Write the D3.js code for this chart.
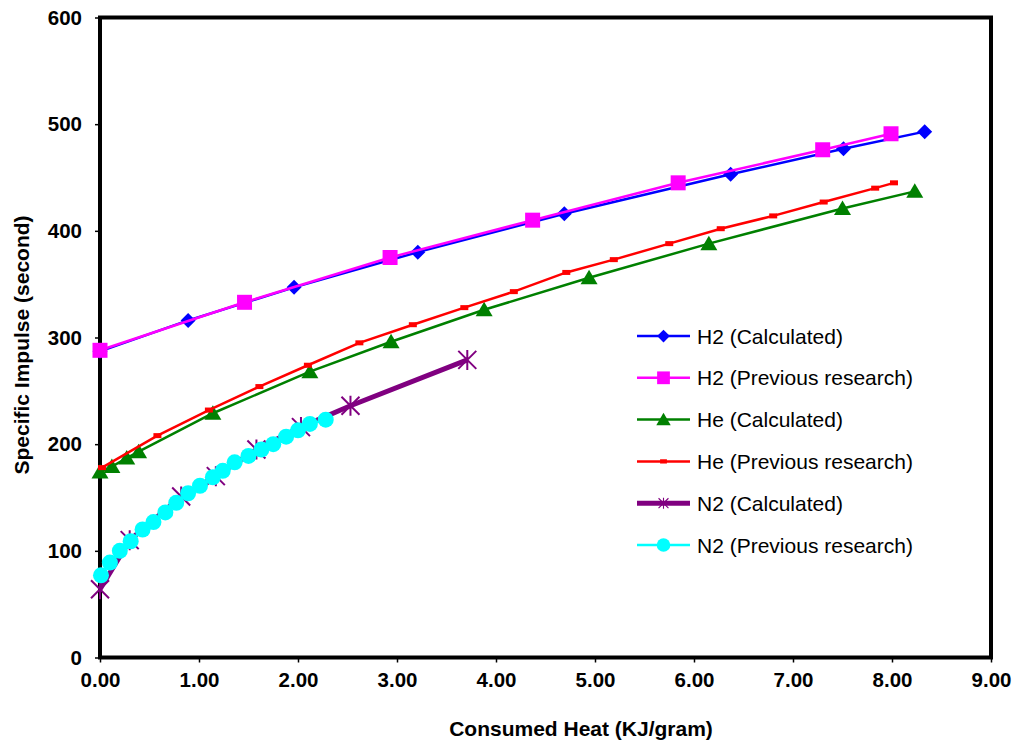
<!DOCTYPE html>
<html>
<head>
<meta charset="utf-8">
<script src="https://cdn.jsdelivr.net/npm/d3@7"></script>
<style>
  body { margin: 0; background: #fff; }
  text { font-family: "Liberation Sans", Arial, sans-serif; }
</style>
</head>
<body>
<div id="chart"></div>
<script>
const MARGIN = { LEFT: 100, RIGHT: 24, TOP: 17.5, BOTTOM: 85.5 };
const WIDTH = 1015 - MARGIN.LEFT - MARGIN.RIGHT;
const HEIGHT = 743 - MARGIN.TOP - MARGIN.BOTTOM;

// x ticks / y ticks
const xTicks = [0, 1, 2, 3, 4, 5, 6, 7, 8, 9];
const yTicks = [0, 100, 200, 300, 400, 500, 600];

// series data: [consumed heat, specific impulse]
const h2Calc = [[0, 287], [0.89, 316], [1.96, 347], [3.21, 380], [4.69, 416], [6.37, 453], [7.51, 477], [8.33, 493]];
const h2Prev = [[0, 288], [1.46, 333], [2.93, 375], [4.37, 410], [5.84, 445], [7.30, 476], [7.99, 491]];
const heCalc = [[0, 174], [0.12, 179], [0.27, 187], [0.39, 193], [1.14, 229], [2.12, 268], [2.94, 296], [3.88, 326], [4.94, 356], [6.15, 388], [7.50, 421], [8.23, 437]];
const hePrev = [[0.02, 178], [0.58, 208], [1.10, 232], [1.61, 254], [2.10, 274], [2.62, 295], [3.16, 312], [3.68, 328], [4.18, 343], [4.71, 361], [5.19, 373], [5.75, 388], [6.27, 402], [6.80, 414], [7.31, 427], [7.83, 440], [8.02, 445]];
const n2Calc = [[0, 64], [0.30, 110], [0.82, 151], [1.17, 170], [1.58, 195], [2.03, 216], [2.53, 236], [3.71, 279]];
const n2Prev = [[0.01, 77], [0.10, 89], [0.20, 100], [0.31, 109], [0.43, 120], [0.54, 127], [0.66, 136], [0.77, 145], [0.89, 154], [1.01, 161], [1.14, 169], [1.24, 175], [1.36, 183], [1.50, 189], [1.63, 195], [1.75, 200], [1.88, 207], [2.00, 213], [2.12, 219], [2.28, 223]];

const seriesNames = ["H2 (Calculated)", "H2 (Previous research)", "He (Calculated)", "He (Previous research)", "N2 (Calculated)", "N2 (Previous research)"];
const seriesData = [h2Calc, h2Prev, heCalc, hePrev, n2Calc, n2Prev];
const seriesColors = ["#0000ff", "#ff00ff", "#008000", "#ff0000", "#800080", "#00ffff"];
const seriesWidths = [2.5, 2.5, 2.5, 2.5, 5, 2.5];
const seriesMarkers = ["diamond", "square", "triangle", "dash", "star", "circle"];

const svg = d3.select("#chart").append("svg")
  .attr("width", 1015)
  .attr("height", 743);

const g = svg.append("g")
  .attr("transform", `translate(${MARGIN.LEFT}, ${MARGIN.TOP})`);

const x = d3.scaleLinear().domain([0, 9]).range([0, WIDTH]);
const y = d3.scaleLinear().domain([0, 600]).range([HEIGHT, 0]);

// axes
const xAxis = g.append("g")
  .attr("transform", `translate(0, ${HEIGHT})`)
  .call(d3.axisBottom(x).tickValues(xTicks).tickSize(5).tickPadding(10).tickFormat(d3.format(".2f")));
const yAxis = g.append("g")
  .call(d3.axisLeft(y).tickValues(yTicks).tickSize(5).tickPadding(13));

[xAxis, yAxis].forEach((a) => {
  a.select(".domain").remove();
  a.selectAll("line").attr("stroke", "#000").attr("stroke-width", 1.5);
  a.selectAll("text")
    .attr("font-size", "20.5px")
    .attr("font-weight", "bold")
    .attr("fill", "#000");
});

// axis titles
svg.append("text")
  .attr("x", 581)
  .attr("y", 736)
  .attr("text-anchor", "middle")
  .attr("font-size", "21px")
  .attr("font-weight", "bold")
  .text("Consumed Heat (KJ/gram)");

svg.append("text")
  .attr("transform", "rotate(-90)")
  .attr("x", -345)
  .attr("y", 29)
  .attr("text-anchor", "middle")
  .attr("font-size", "21px")
  .attr("font-weight", "bold")
  .text("Specific Impulse (second)");

// frame
g.append("rect")
  .attr("width", WIDTH)
  .attr("height", HEIGHT)
  .attr("fill", "none")
  .attr("stroke", "#000")
  .attr("stroke-width", 4);

const line = d3.line()
  .x((d) => x(d[0]))
  .y((d) => y(d[1]));

function drawMarker(sel, type, color) {
  if (type === "diamond") {
    sel.append("path").attr("d", "M0,-7.5L7.5,0L0,7.5L-7.5,0Z").attr("fill", color);
  } else if (type === "square") {
    sel.append("rect").attr("x", -7.5).attr("y", -7.5).attr("width", 15).attr("height", 15).attr("fill", color);
  } else if (type === "triangle") {
    sel.append("path").attr("d", "M0,-8L8.5,6.5L-8.5,6.5Z").attr("fill", color);
  } else if (type === "dash") {
    sel.append("rect").attr("x", -4).attr("y", -2.5).attr("width", 8).attr("height", 5).attr("fill", color);
  } else if (type === "star") {
    sel.append("path")
      .attr("d", "M-9,-9L9,9M-9,9L9,-9M0,-10L0,10")
      .attr("stroke", color)
      .attr("stroke-width", 2)
      .attr("fill", "none");
  } else if (type === "circle") {
    sel.append("circle").attr("r", 8).attr("fill", color);
  }
}

seriesData.forEach((data, i) => {
  const sg = g.append("g").attr("class", "series");
  sg.append("path")
    .attr("fill", "none")
    .attr("stroke", seriesColors[i])
    .attr("stroke-width", seriesWidths[i])
    .attr("d", line(data));
  sg.selectAll(".marker")
    .data(data)
    .enter()
    .append("g")
    .attr("class", "marker")
    .attr("transform", (d) => `translate(${x(d[0])}, ${y(d[1])})`)
    .each(function () {
      drawMarker(d3.select(this), seriesMarkers[i], seriesColors[i]);
    });
});

// legend
const legend = svg.append("g").attr("transform", "translate(637, 336)");
seriesNames.forEach((name, i) => {
  const row = legend.append("g").attr("transform", `translate(0, ${i * 41.8})`);
  row.append("line")
    .attr("x1", 0).attr("x2", 53)
    .attr("stroke", seriesColors[i])
    .attr("stroke-width", seriesWidths[i]);
  const m = row.append("g").attr("transform", "translate(26.5, 0) scale(0.85)");
  drawMarker(m, seriesMarkers[i], seriesColors[i]);
  if (seriesMarkers[i] === "star") m.attr("transform", "translate(26.5, 0) scale(0.55)");
  row.append("text")
    .attr("x", 60)
    .attr("y", 7.5)
    .attr("font-size", "21px")
    .attr("fill", "#000")
    .text(name);
});
</script>
</body>
</html>
